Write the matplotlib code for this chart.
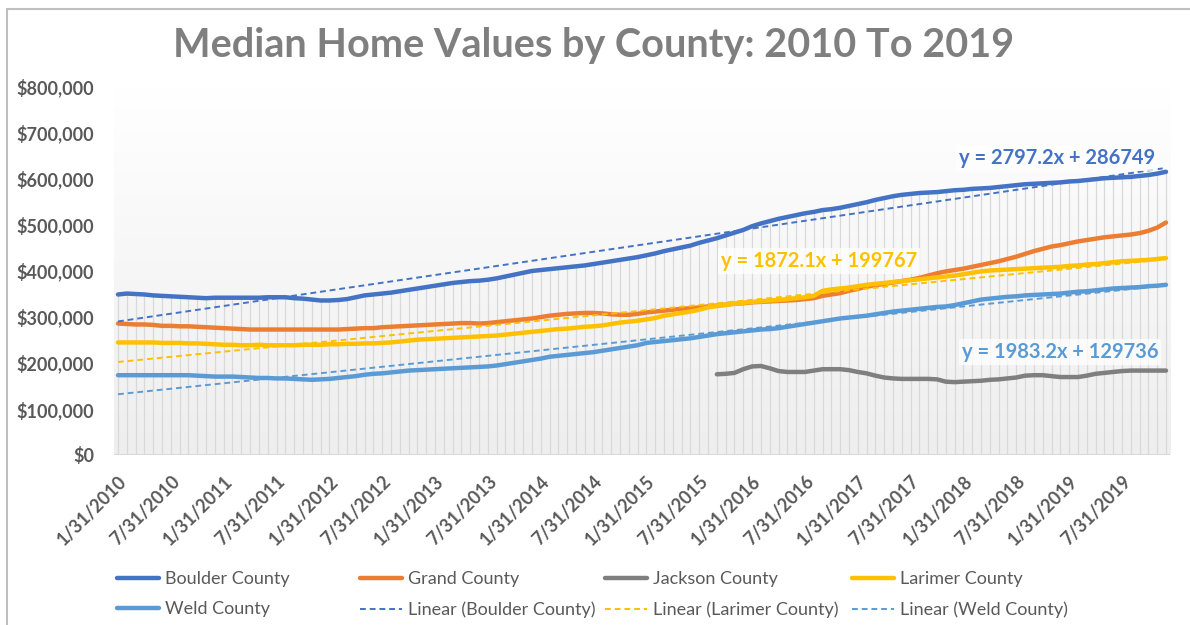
import numpy as np
import matplotlib
matplotlib.use('Agg')
import matplotlib.pyplot as plt
from matplotlib.colors import LinearSegmentedColormap
from matplotlib.patches import Rectangle

plt.rcParams['font.family'] = ['Lato', 'DejaVu Sans']

# monthly median values (USD thousands), 1/31/2010 .. 12/31/2019
boulder = [348, 350, 349, 348, 346, 345, 344, 343, 342, 341, 340, 341,
           341, 341, 341, 341, 341, 342, 342, 342, 340, 339, 337, 335,
           335, 336, 338, 342, 346, 348, 350, 352, 355, 358, 361, 364,
           367, 370, 373, 375, 377, 378, 380, 383, 387, 391, 395, 399,
           401, 403, 405, 407, 409, 411, 414, 417, 420, 423, 426, 429,
           433, 437, 442, 446, 450, 454, 460, 465, 470, 476, 482, 488,
           496, 502, 507, 512, 516, 520, 524, 527, 531, 533, 536, 540,
           544, 548, 553, 557, 561, 564, 566, 568, 569, 570, 572, 574,
           575, 577, 578, 579, 581, 583, 585, 587, 588, 589, 590, 591,
           593, 594, 596, 598, 600, 601, 602, 603, 605, 607, 610, 614]

grand = [285, 284, 283, 283, 282, 280, 280, 279, 279, 278, 277, 276,
         275, 274, 273, 272, 272, 272, 272, 272, 272, 272, 272, 272,
         272, 272, 273, 274, 275, 275, 277, 278, 279, 280, 281, 282,
         283, 284, 285, 286, 286, 285, 286, 288, 290, 292, 294, 296,
         299, 302, 304, 306, 307, 308, 308, 307, 305, 304, 304, 306,
         309, 311, 313, 315, 317, 318, 320, 322, 324, 326, 328, 329,
         331, 332, 333, 334, 335, 336, 338, 340, 345, 348, 351, 356,
         360, 365, 368, 371, 374, 377, 380, 384, 389, 394, 398, 401,
         404, 408, 412, 416, 420, 425, 430, 436, 442, 447, 452, 455,
         459, 463, 466, 469, 472, 474, 476, 478, 481, 486, 493, 504]

# Jackson County only reported from 9/30/2015
jackson = [np.nan] * 68 + [
    175, 176, 178, 186, 192, 193, 188, 182, 180, 180, 180, 183,
    186, 186, 186, 184, 180, 177, 172, 168, 166, 165, 165, 165,
    165, 164, 159, 158, 159, 160, 161, 163, 164, 166, 168, 172,
    173, 173, 171, 169, 169, 169, 172, 176, 178, 180, 182, 183,
    183, 183, 183, 183]

larimer = [244, 244, 244, 244, 244, 243, 243, 243, 242, 242, 241, 240,
           239, 239, 238, 238, 239, 238, 238, 238, 238, 239, 239, 239,
           240, 240, 241, 241, 242, 242, 243, 244, 246, 248, 250, 251,
           252, 253, 254, 255, 256, 257, 258, 259, 261, 263, 265, 267,
           269, 271, 273, 274, 276, 278, 279, 281, 284, 287, 289, 291,
           294, 297, 302, 305, 308, 311, 315, 320, 323, 325, 328, 330,
           332, 333, 335, 336, 338, 340, 342, 345, 356, 359, 361, 363,
           366, 369, 371, 373, 375, 377, 379, 381, 383, 385, 387, 389,
           392, 395, 398, 400, 401, 402, 403, 404, 405, 406, 407, 408,
           410, 411, 413, 414, 416, 418, 420, 421, 422, 423, 425, 427]

weld = [173, 173, 173, 173, 173, 173, 173, 173, 173, 172, 171, 170,
        170, 170, 169, 168, 167, 167, 166, 166, 165, 164, 163, 164,
        165, 167, 169, 171, 174, 176, 177, 179, 181, 183, 184, 185,
        186, 187, 188, 189, 190, 191, 192, 194, 197, 200, 203, 206,
        209, 213, 215, 217, 219, 221, 223, 226, 229, 232, 235, 238,
        243, 245, 247, 249, 251, 253, 256, 259, 262, 264, 266, 268,
        270, 272, 273, 275, 278, 281, 284, 287, 290, 293, 296, 298,
        300, 302, 305, 308, 311, 313, 315, 317, 319, 321, 322, 325,
        329, 333, 337, 339, 341, 343, 344, 346, 347, 348, 349, 350,
        352, 354, 355, 357, 359, 361, 362, 363, 364, 366, 367, 369]

# linear trendlines shown on chart (x = 1..120)
trend_boulder = (2797.2, 286749)
trend_larimer = (1872.1, 199767)
trend_weld = (1983.2, 129736)

tick_labels = []
for yr in range(2010, 2020):
    tick_labels += ['1/31/%d' % yr, '7/31/%d' % yr]

colors = {'Boulder County': '#4472C4', 'Grand County': '#ED7D31',
          'Jackson County': '#7F7F7F', 'Larimer County': '#FFC000',
          'Weld County': '#5B9BD5'}

W, H = 1190, 625
fig = plt.figure(figsize=(W / 100, H / 100), dpi=100)


def fx(px):
    return px / W


def fy(py):
    return 1 - py / H


ax = fig.add_axes([fx(113.6), fy(455), fx(1170.4) - fx(113.6), fy(86) - fy(455)])
n = len(boulder)
x = np.arange(n)
k = 1000.0

# plot area gradient
cmap = LinearSegmentedColormap.from_list('bg', ['#eeeeee', '#ffffff'])
ax.imshow(np.linspace(0, 1, 256).reshape(-1, 1), cmap=cmap, aspect='auto',
          origin='lower', extent=[-0.5, n - 0.5, 0, 800000], zorder=0)

# drop lines
ax.vlines(x, 0, np.array(boulder) * k, colors='#d9d9d9', lw=0.9, zorder=1)
ax.axhline(0, color='#d9d9d9', lw=1.5, zorder=2)

series = [('Boulder County', boulder), ('Grand County', grand),
          ('Jackson County', jackson), ('Larimer County', larimer),
          ('Weld County', weld)]
handles = {}
for name, vals in series:
    h, = ax.plot(x, np.array(vals, dtype=float) * k, color=colors[name], lw=3.2,
                 solid_capstyle='round', zorder=4, label=name)
    handles[name] = h

dash = (0, (3, 2))
trends = [('Boulder County', trend_boulder), ('Larimer County', trend_larimer),
          ('Weld County', trend_weld)]
for name, (m, b) in trends:
    h, = ax.plot(x, m * (x + 1) + b, color=colors[name], lw=1.4, linestyle=dash,
                 zorder=5, label='Linear (%s)' % name)
    handles['Linear (%s)' % name] = h

ax.set_xlim(-0.5, n - 0.5)
ax.set_ylim(0, 800000)
ax.set_yticks(np.arange(0, 800001, 100000))
ax.set_yticklabels(['${:,.0f}'.format(v) for v in np.arange(0, 800001, 100000)])
ax.set_xticks(np.arange(0, n, 6))
ax.set_xticklabels(tick_labels, rotation=45, ha='right', va='top',
                   rotation_mode='anchor')
ax.tick_params(axis='both', length=0, colors='#595959', labelsize=13)
ax.tick_params(axis='y', pad=14)
ax.tick_params(axis='x', pad=13)
for lab in ax.get_xticklabels() + ax.get_yticklabels():
    lab.set_fontweight('bold')
for s in ax.spines.values():
    s.set_visible(False)

# trendline equations
box = dict(facecolor='white', edgecolor='none', alpha=0.75, pad=2)
eq_font = 14.5
fig.text(fx(1057), fy(158), 'y = 2797.2x + 286749', color='#4472C4', fontsize=eq_font,
         fontweight='bold', ha='center', va='center', bbox=box)
fig.text(fx(819), fy(261), 'y = 1872.1x + 199767', color='#FFC000', fontsize=eq_font,
         fontweight='bold', ha='center', va='center', bbox=box)
fig.text(fx(1060), fy(352), 'y = 1983.2x + 129736', color='#5B9BD5', fontsize=eq_font,
         fontweight='bold', ha='center', va='center', bbox=box)

fig.text(fx(594), fy(46), 'Median Home Values by County: 2010 To 2019',
         color='#7f7f7f', fontsize=28.5, fontweight='bold', ha='center', va='center')

# legend laid out in four equal columns
cols = [['Boulder County', 'Weld County'],
        ['Grand County', 'Linear (Boulder County)'],
        ['Jackson County', 'Linear (Larimer County)'],
        ['Larimer County', 'Linear (Weld County)']]
col_x = [117, 360, 605, 852]
for names, cx in zip(cols, col_x):
    fig.legend([handles[nm] for nm in names], names, loc='upper left',
               bbox_to_anchor=(fx(cx), fy(571)), frameon=False, fontsize=13,
               labelcolor='#595959', handlelength=2.35, handletextpad=0.3,
               labelspacing=0.8, borderaxespad=0, borderpad=0)

fig.patches.append(Rectangle((fx(7), -0.1), 1.2, fy(8.5) + 0.1, transform=fig.transFigure,
                             fill=False, edgecolor='#bfbfbf', lw=1.5))

fig.savefig('out.png', dpi=100, facecolor='white')
